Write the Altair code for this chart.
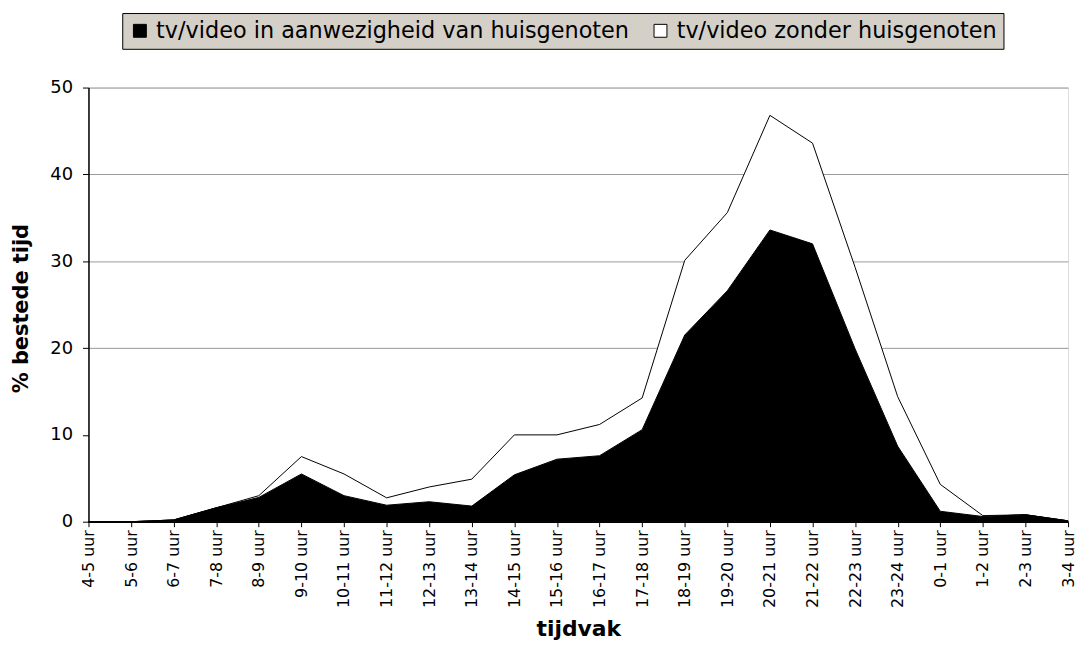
import altair as alt
import pandas as pd

labels = ["4-5 uur", "5-6 uur", "6-7 uur", "7-8 uur", "8-9 uur", "9-10 uur",
          "10-11 uur", "11-12 uur", "12-13 uur", "13-14 uur", "14-15 uur", "15-16 uur",
          "16-17 uur", "17-18 uur", "18-19 uur", "19-20 uur", "20-21 uur", "21-22 uur",
          "22-23 uur", "23-24 uur", "0-1 uur", "1-2 uur", "2-3 uur", "3-4 uur"]

met_huisgenoten = [0, 0, 0.2, 1.6, 2.8, 5.5, 3.0, 1.9, 2.3, 1.8, 5.4, 7.2,
                   7.6, 10.6, 21.5, 26.6, 33.6, 32.0, 19.9, 8.7, 1.2, 0.6, 0.8, 0.1]
zonder_huisgenoten = [0, 0, 0, 0, 0.2, 2.0, 2.5, 0.85, 1.7, 3.1, 4.6, 2.8,
                      3.6, 3.65, 8.6, 9.0, 13.2, 11.6, 9.4, 5.7, 3.1, 0.1, 0, 0]

series_names = ["tv/video in aanwezigheid van huisgenoten", "tv/video zonder huisgenoten"]
series_colors = ["black", "white"]
y_ticks = [0, 10, 20, 30, 40, 50]

rows = []
for i, lab in enumerate(labels):
    rows.append({"tijdvak": lab, "serie": series_names[0], "ord": 0, "waarde": met_huisgenoten[i]})
    rows.append({"tijdvak": lab, "serie": series_names[1], "ord": 1, "waarde": zonder_huisgenoten[i]})
df = pd.DataFrame(rows)

FONT = "DejaVu Sans"

chart = alt.Chart(df).mark_area(
    stroke="black", strokeWidth=1, opacity=1, interpolate="linear"
).encode(
    x=alt.X(
        "tijdvak:N", sort=labels,
        scale=alt.Scale(type="point", padding=0),
        axis=alt.Axis(
            title="tijdvak", labelAngle=-90, labelFontSize=16, labelFont=FONT,
            labelColor="black", tickSize=5, tickColor="black", labelPadding=3,
            domainColor="black", domainWidth=1.5, grid=False,
            titleFontSize=22, titleFont=FONT, titleFontWeight="bold", titleColor="black",
            titleY=115, titleBaseline="alphabetic",
        ),
    ),
    y=alt.Y(
        "waarde:Q", stack="zero",
        scale=alt.Scale(domain=[0, 50], nice=False, zero=True),
        axis=alt.Axis(
            title="% bestede tijd", values=y_ticks, format="d",
            labelFontSize=18, labelFont=FONT, labelColor="black",
            tickSize=6, tickColor="black", labelPadding=10,
            domainColor="black", domainWidth=1.5,
            grid=True, gridColor="#999999", gridWidth=1,
            gridOpacity=alt.condition("datum.value == 10", alt.value(0), alt.value(1)),
            titleFontSize=21, titleFont=FONT, titleFontWeight="bold", titleColor="black",
            titleX=-61, titleY=222, titleBaseline="alphabetic",
        ),
    ),
    color=alt.Color(
        "serie:N", title=None,
        scale=alt.Scale(domain=series_names, range=series_colors),
        legend=alt.Legend(
            orient="none", legendX=34, legendY=-75, direction="horizontal",
            fillColor="#D4D0C8", strokeColor="black", padding=6.5,
            symbolType="square", symbolSize=169, symbolStrokeColor="black",
            symbolStrokeWidth=1, symbolOpacity=1,
            labelFontSize=22.5, labelFont=FONT, labelColor="black", labelLimit=0,
            columnPadding=20, labelOffset=5,
        ),
    ),
    order=alt.Order("ord:Q"),
).properties(
    width=986, height=437,
    autosize=alt.AutoSizeParams(type="none"),
    padding={"left": 81, "top": 78, "right": 10, "bottom": 120},
).configure_view(
    stroke="black", strokeWidth=1.5
).configure(background="white")

chart.save("out.html", embed_options={"renderer": "svg", "actions": False})
